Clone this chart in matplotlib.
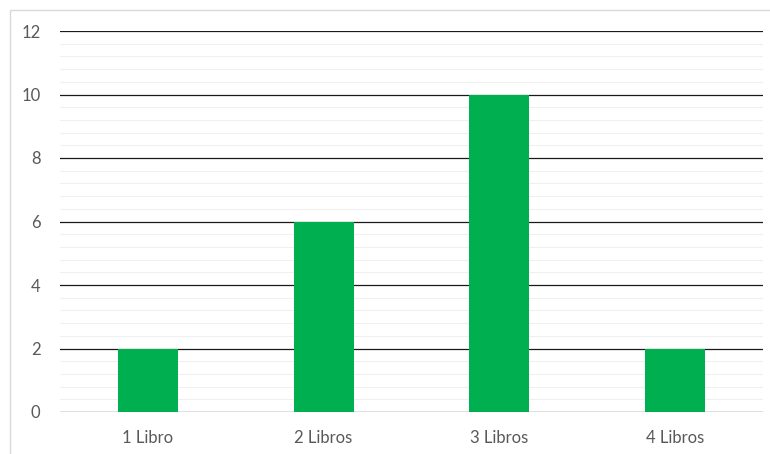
import matplotlib

matplotlib.use("Agg")
import matplotlib.pyplot as plt
from matplotlib.patches import Rectangle
import numpy as np

categories = ["1 Libro", "2 Libros", "3 Libros", "4 Libros"]
values = [2, 6, 10, 2]
y_ticks = [0, 2, 4, 6, 8, 10, 12]

plt.rcParams["font.family"] = ["Lato", "DejaVu Sans"]

fig = plt.figure(figsize=(7.7, 4.54), dpi=100)
fig.patches.append(
    Rectangle((10 / 770, -0.1), 1.2, 1 - 10 / 454 + 0.1, transform=fig.transFigure,
              facecolor="none", edgecolor="#d9d9d9", linewidth=1.0, zorder=0)
)
ax = fig.add_axes([60 / 770, 1 - 412 / 454, 703 / 770, 381 / 454])

x = np.arange(len(categories))
ax.bar(x, values, width=0.34, color="#00b050", zorder=3)

ax.set_xlim(-0.5, len(categories) - 0.5)
ax.set_ylim(0, 12)
ax.set_yticks(y_ticks)
ax.set_yticks(np.arange(0, 12.01, 0.4), minor=True)
ax.grid(which="minor", axis="y", color="#f0f0f0", linewidth=0.8, zorder=0)
ax.grid(which="major", axis="y", color="#1a1a1a", linewidth=0.9, zorder=1)
ax.axhline(0, color="#d9d9d9", linewidth=1.0, zorder=2)
ax.set_xticks(x)
ax.set_xticklabels(categories)
ax.tick_params(axis="both", which="both", length=0, labelsize=12, labelcolor="#595959")
ax.tick_params(axis="y", pad=14)
ax.tick_params(axis="x", pad=13)
for spine in ax.spines.values():
    spine.set_visible(False)

fig.savefig("out.png", dpi=100)
